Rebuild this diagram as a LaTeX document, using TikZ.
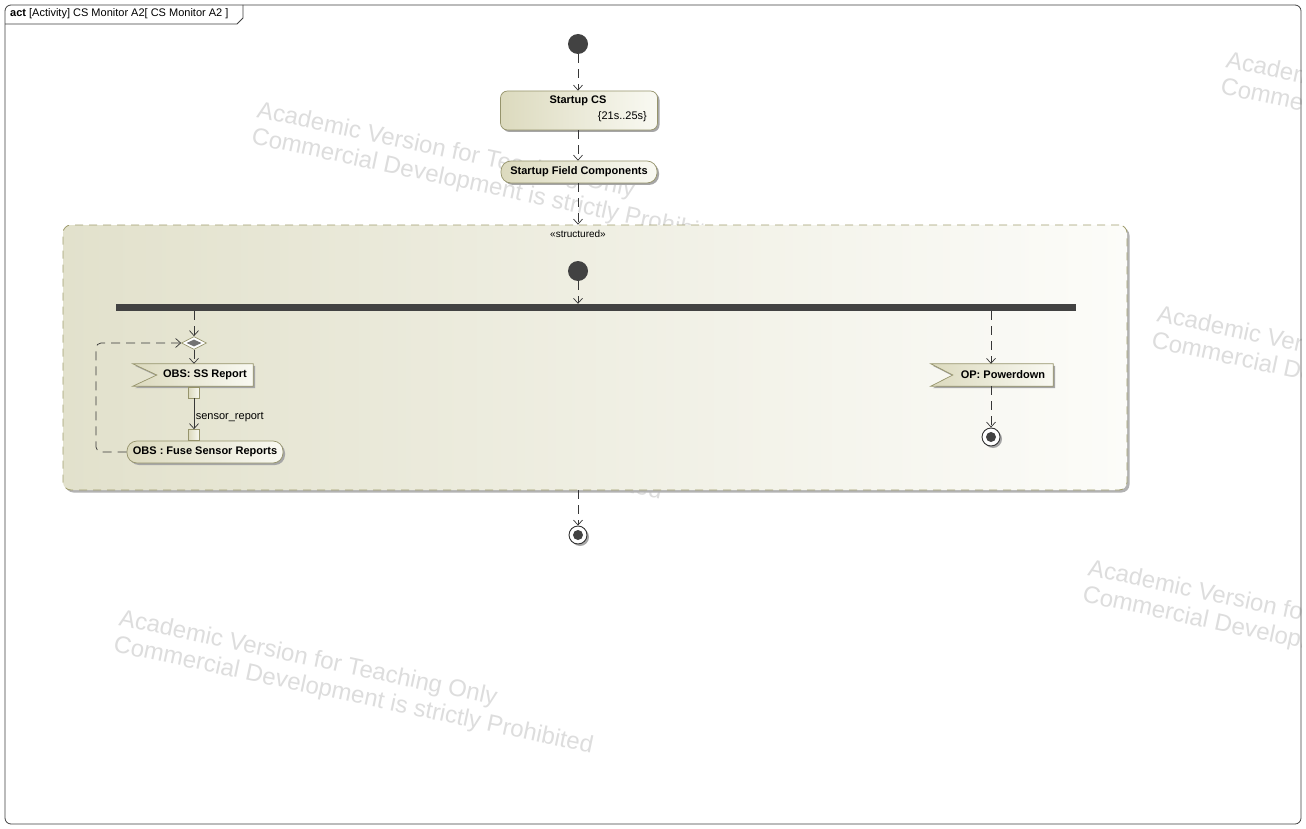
\documentclass[tikz,border=0pt]{standalone}
\usepackage{fontspec}
\setmainfont{Liberation Sans}
\usetikzlibrary{arrows.meta,shapes.geometric,shadows,calc}
\definecolor{olv}{RGB}{150,148,108}
\definecolor{olvd}{RGB}{160,157,110}
\definecolor{begL}{RGB}{220,218,190}
\definecolor{begR}{RGB}{249,249,242}
\definecolor{regL}{RGB}{226,225,204}
\definecolor{regR}{RGB}{252,252,249}
\definecolor{lnc}{RGB}{55,55,55}
\definecolor{wmc}{RGB}{221,221,221}
\definecolor{drk}{RGB}{66,66,66}
\pgfdeclarelayer{wml}\pgfdeclarelayer{regl}\pgfdeclarelayer{shl}
\pgfsetlayers{wml,regl,shl,main}
\tikzset{
 lbl/.style={font=\fontsize{11}{13}\selectfont, inner sep=0pt},
 bl/.style={font=\fontsize{11}{13}\selectfont\bfseries},
 wm/.style={font=\fontsize{24}{27}\selectfont, text=wmc, rotate=-12, inner sep=0pt, anchor=base west},
 shad/.style={drop shadow={shadow xshift=2pt, shadow yshift=-2pt, fill=black!35, opacity=1}},
 actbox/.style={draw=olv, line width=0.7pt, left color=begL, right color=begR, rounded corners=7pt, shad, inner sep=0pt},
 pill/.style={draw=olv, line width=0.7pt, left color=begL, right color=begR, rounded corners=10pt, shad, bl, inner sep=0pt, minimum height=22pt},
 evtxt/.style={bl, inner sep=0pt, minimum height=22pt},
 evshape/.style={draw=olv, line width=0.7pt, left color=begL, right color=begR, shad},
 pinbox/.style={draw=olv, line width=0.7pt, left color=begL, right color=begR, minimum size=11pt, inner sep=0pt},
 region/.style={draw=olvd, line width=0.8pt, dash pattern=on 8pt off 6pt, left color=regL, right color=regR, rounded corners=8pt, drop shadow={shadow xshift=2.5pt, shadow yshift=-2.5pt, fill=black!30, opacity=1}, inner sep=0pt},
 initnode/.style={circle, fill=drk, minimum size=20pt, inner sep=0pt},
 finnode/.style={circle, draw=black!80, line width=0.9pt, fill=white, minimum size=18pt, inner sep=0pt, shad,
   path picture={\fill[drk] (path picture bounding box.center) circle (5pt);}},
 forkbar/.style={rectangle, fill=drk, minimum width=960pt, minimum height=7pt, inner sep=0pt},
 decnode/.style={diamond, draw=olv, line width=0.7pt, fill=white, minimum width=25pt, minimum height=13pt, inner sep=0pt},
 decin/.style={diamond, fill=black!55, minimum width=15pt, minimum height=7pt, inner sep=0pt},
 flow/.style={draw=lnc, line width=0.7pt, dash pattern=on 9pt off 6pt, -{Straight Barb[length=5pt,width=9pt]}},
 sflow/.style={draw=lnc, line width=0.7pt, -{Straight Barb[length=5pt,width=9pt]}},
 frm/.style={draw=black!75, line width=0.8pt}
}
\newcommand\wmark[3]{%
 \node[wm] (#1a) at (#2,#3) {Academic Version for Teaching Only};
 \node[wm] (#1b) at ($(#2,#3)+(-5.6,26.4)$) {Commercial Development is strictly Prohibited};}
\begin{document}
\begin{tikzpicture}[x=1pt,y=-1pt]
\useasboundingbox (0,0) rectangle (1306,829);
% watermarks
\begin{pgfonlayer}{wml}
\fill[white] (0,0) rectangle (1306,829);
\begin{scope}
\clip (5,5) rectangle (1301,824);
\wmark{wA}{256}{117}
\wmark{wB}{187}{371}
\wmark{wC}{118}{625}
\wmark{wD}{1225}{67}
\wmark{wE}{1156}{321}
\wmark{wF}{1087}{575}
\end{scope}
\end{pgfonlayer}
% frame
\draw[frm, rounded corners=6pt] (5,5) rectangle (1301,824);
\draw[frm] (5,24) -- (237,24) -- (243,18) -- (243,5);
\node[lbl, anchor=base west] (ttl) at (10,16.5) {\textbf{act} [Activity] CS Monitor A2[ CS Monitor A2 ]};
% region
\begin{pgfonlayer}{regl}
\node[region, minimum width=1064pt, minimum height=265pt] (reg) at (595,357.5) {};
\end{pgfonlayer}
\node[lbl, font=\fontsize{10}{12}\selectfont] (stl) at (578,233.5) {«structured»};
% top flow
\node[initnode] (ini1) at (578,44) {};
\node[actbox, minimum width=157pt, minimum height=39pt] (scs) at (579,110.5) {};
\node[bl, inner sep=0pt, anchor=base] (scst) at (578,104) {Startup CS};
\node[lbl, anchor=base east] (scsd) at (647,120) {\{21s..25s\}};
\node[pill, minimum width=156pt] (sfc) at (579,172) {Startup Field Components};
\draw[flow] (ini1) -- (scs.north -| ini1);
\draw[flow] (scs.south -| ini1) -- (sfc.north -| ini1);
\draw[flow] (sfc.south -| ini1) -- (reg.north -| ini1);
% inside region
\node[initnode] (ini2) at (578,271) {};
\node[forkbar] (fork) at (596,307.5) {};
\draw[flow] (ini2) -- (fork.north -| ini2);
% left branch
\node[decnode] (dec) at (194,343) {};
\node[decin] (decc) at (194,343) {};
\node[evtxt, minimum width=96pt] (ss) at (205,375) {OBS: SS Report};
\begin{pgfonlayer}{shl}
\draw[evshape] ([xshift=-24pt]ss.north west) -- (ss.north east) -- (ss.south east) -- ([xshift=-24pt]ss.south west) -- (ss.west) -- cycle;
\end{pgfonlayer}
\node[pinbox] (pin1) at (194,392.5) {};
\node[pinbox] (pin2) at (194,435) {};
\node[pill, minimum width=156pt] (fuse) at (205,452) {OBS : Fuse Sensor Reports};
\draw[flow] (fork.south -| dec) -- (dec.north);
\draw[flow] (dec.south) -- (dec.south |- ss.north);
\draw[sflow] (pin1.south) -- node[lbl, pos=0.62, anchor=west, xshift=1.5pt] (sr) {sensor\_report} (pin2.north);
\coordinate (lpc) at (96,343);
\draw[flow, rounded corners=5pt] (fuse.west) -| (lpc) -- (dec.west);
% right branch
\node[finnode] (fin2) at (991,437) {};
\node[evtxt, minimum width=100pt] (op) at (1003,375) {OP: Powerdown};
\begin{pgfonlayer}{shl}
\draw[evshape] ([xshift=-22pt]op.north west) -- (op.north east) -- (op.south east) -- ([xshift=-22pt]op.south west) -- (op.west) -- cycle;
\end{pgfonlayer}
\draw[flow] (fork.south -| fin2) -- (fin2 |- op.north);
\draw[flow] (fin2 |- op.south) -- (fin2.north);
% final
\node[finnode] (fin1) at (578,535) {};
\draw[flow] (reg.south -| fin1) -- (fin1.north);
\end{tikzpicture}
\end{document}
